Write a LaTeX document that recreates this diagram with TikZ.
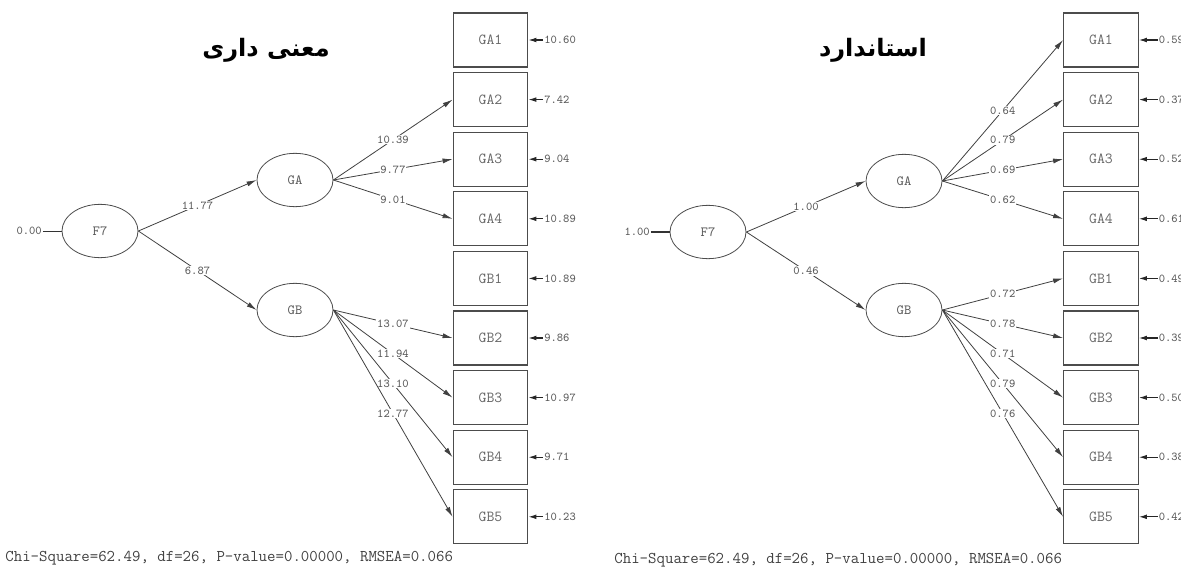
\documentclass[tikz,border=0pt]{standalone}
\usepackage{fontspec}
\newfontfamily\arabicfont[Script=Arabic]{DejaVu Sans}
\TeXXeTstate=1
\usetikzlibrary{arrows.meta,positioning,shapes.geometric}

\begin{document}
\begin{tikzpicture}[x=0.75pt,y=-0.75pt,semithick,>={Latex[length=7.5pt,width=3.8pt]},
    latent/.style={ellipse,draw=black!70,minimum width=57pt,minimum height=40pt,inner sep=0pt,
      text=black!65,font=\ttfamily\fontsize{10.5}{11}\selectfont},
    observed/.style={rectangle,draw=black!70,line width=0.9pt,minimum width=56pt,minimum height=40.5pt,
      text=black!60,font=\ttfamily\fontsize{11.5}{12}\selectfont},
    coef/.style={fill=white,inner sep=0.6pt,text=black!65,font=\ttfamily\fontsize{9}{10}\selectfont},
    errval/.style={inner sep=0.6pt,text=black!65,font=\ttfamily\fontsize{9}{10}\selectfont},
    link/.style={->,draw=black!75},
    errlink/.style={-{Latex[length=6pt,width=3.6pt]},draw=black!85,thick},
    heading/.style={font=\arabicfont\bfseries\fontsize{18}{20}\selectfont},
    fitline/.style={anchor=west,inner sep=0pt,text=black!75,font=\ttfamily\fontsize{12.3}{13}\selectfont}]
  \useasboundingbox (0,0) rectangle (1181,571);

  % t-values
  \node[heading] (ltitle) at (266,50) {\beginR معنی داری\endR};
  \node[latent] (lF7) at (100,231) {F7};
  \node[latent] (lGA) at (295,180) {GA};
  \node[latent] (lGB) at (295,310) {GB};
  \node[errval] (lvar) [left=14pt of lF7] {0.00};
  \draw[draw=black!80] (lvar) -- (lF7);
  \foreach \name/\err [count=\i from 0] in {GA1/10.60,GA2/7.42,GA3/9.04,GA4/10.89,
      GB1/10.89,GB2/9.86,GB3/10.97,GB4/9.71,GB5/10.23} {
    \node[observed] (l\name) at (490.5,40+59.6*\i) {\name};
    \node[errval,anchor=west] (l\name-e) at ([xshift=11pt]l\name.east) {\err};
    \draw[errlink] (l\name-e) -- (l\name);
  }
  \draw[link] (lF7.east) -- node[coef] {11.77} (lGA.west);
  \draw[link] (lF7.east) -- node[coef] {6.87} (lGB.west);
  \foreach \ind/\val in {GA2/10.39,GA3/9.77,GA4/9.01}
    \draw[link] (lGA.east) -- node[coef] {\val} (l\ind.west);
  \foreach \ind/\val in {GB2/13.07,GB3/11.94,GB4/13.10,GB5/12.77}
    \draw[link] (lGB.east) -- node[coef] {\val} (l\ind.west);
  \node[fitline] (lfit) at (5,558) {Chi-Square=62.49, df=26, P-value=0.00000, RMSEA=0.066};

  % standardized
  \node[heading] (rtitle) at (873,50) {\beginR استاندارد\endR};
  \node[latent] (rF7) at (708,232) {F7};
  \node[latent] (rGA) at (904,181) {GA};
  \node[latent] (rGB) at (904,310) {GB};
  \node[errval] (rvar) [left=14pt of rF7] {1.00};
  \draw[draw=black!80,line width=1.1pt] (rvar) -- (rF7);
  \foreach \name/\err [count=\i from 0] in {GA1/0.59,GA2/0.37,GA3/0.52,GA4/0.61,
      GB1/0.49,GB2/0.39,GB3/0.50,GB4/0.38,GB5/0.42} {
    \node[observed] (r\name) at (1101,40+59.6*\i) {\name};
    \node[errval,anchor=west] (r\name-e) at ([xshift=14pt]r\name.east) {\err};
    \draw[errlink] (r\name-e) -- (r\name);
  }
  \draw[link] (rF7.east) -- node[coef] {1.00} (rGA.west);
  \draw[link] (rF7.east) -- node[coef] {0.46} (rGB.west);
  \foreach \ind/\val in {GA1/0.64,GA2/0.79,GA3/0.69,GA4/0.62}
    \draw[link] (rGA.east) -- node[coef] {\val} (r\ind.west);
  \foreach \ind/\val in {GB1/0.72,GB2/0.78,GB3/0.71,GB4/0.79,GB5/0.76}
    \draw[link] (rGB.east) -- node[coef] {\val} (r\ind.west);
  \node[fitline] (rfit) at (614,560) {Chi-Square=62.49, df=26, P-value=0.00000, RMSEA=0.066};
\end{tikzpicture}
\end{document}
